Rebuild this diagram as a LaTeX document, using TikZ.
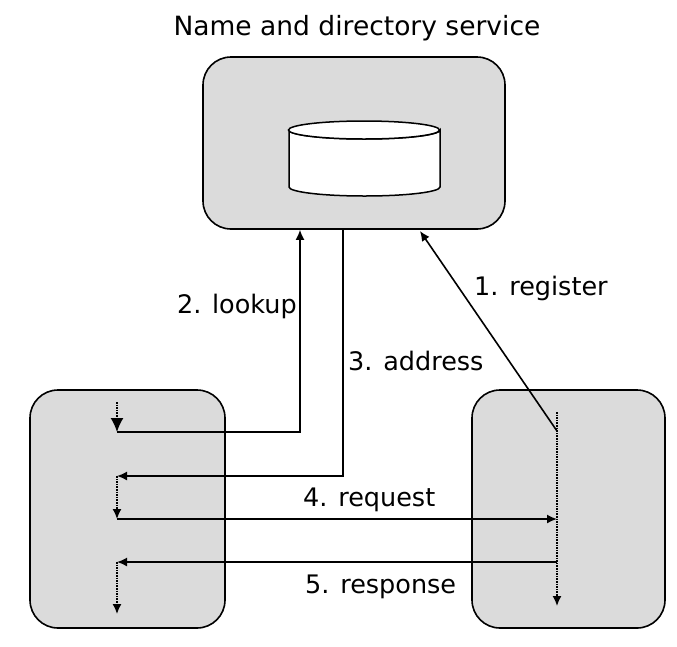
\documentclass[tikz,border=0pt]{standalone}
\usepackage{fontspec}
\setmainfont{DejaVu Sans}
\usetikzlibrary{arrows.meta}
\begin{document}
\begin{tikzpicture}[x=1pt,y=-1pt,
  box/.style={draw, line width=1.6pt, fill=black!14, rounded corners=28pt, inner sep=0pt},
  conn/.style={line width=1.6pt},
  thread/.style={line width=1.6pt, densely dotted},
  tip/.style={-{Latex[length=10pt,width=9pt]}},
  bigtip/.style={-{Latex[length=14pt,width=13pt]}},
  lbl/.style={font=\fontsize{25.5}{30}\selectfont, inner sep=0pt}]
\useasboundingbox (0,0) rectangle (677,646);
% boxes
\node[box, minimum width=302pt, minimum height=172pt] (nds) at (354,143) {};
\node[box, minimum width=195pt, minimum height=238pt] (client) at (127.5,509) {};
\node[box, minimum width=193pt, minimum height=238pt] (server) at (568.5,509) {};
\node[font=\fontsize{26.5}{31}\selectfont, inner sep=0pt] (title) at (357,28) {Name and directory service};
% cylinder
\coordinate (db) at (364,130);
\filldraw[fill=white, line width=1.5pt] (289,130) -- (289,187) arc[start angle=180,end angle=360,x radius=75.5pt,y radius=9pt] -- (440,130) arc[start angle=0,end angle=-180,x radius=75.5pt,y radius=9pt];
\draw[line width=1.5pt, fill=white] (db) ellipse[x radius=75.5pt,y radius=9pt];
% coordinates
\coordinate (c0) at (117,402);
\coordinate (c1) at (117,432);
\coordinate (c2) at (117,476);
\coordinate (c3) at (117,519);
\coordinate (c4) at (117,562);
\coordinate (c5) at (117,614);
\coordinate (s0) at (557,412);
\coordinate (s1) at (557,431);
\coordinate (s2) at (557,519);
\coordinate (s3) at (557,562);
\coordinate (s4) at (557,606);
\coordinate (look) at (300,432);
\coordinate (addr) at (343,476);
\coordinate (reg) at (420,231);
% threads
\draw[thread, bigtip] (c0) -- (c1);
\draw[thread, tip] (c2) -- (c3);
\draw[thread, tip] (c4) -- (c5);
\draw[thread, tip] (s0) -- (s4);
% messages
\draw[conn, tip] (c1) -- (look) -- (look |- nds.south);
\draw[conn, tip] (addr |- nds.south) -- (addr) -- (c2);
\draw[conn, tip] (c3) -- (s2);
\draw[conn, tip] (s3) -- (c4);
\draw[conn, tip] (s1) -- (reg);
% labels
\node[lbl, anchor=east] (l2) at (297,306) {2. lookup};
\node[lbl, anchor=west] (l3) at (348,361) {3. address};
\node[lbl, anchor=west] (l1) at (474,288) {1. register};
\node[lbl, anchor=west] (l4) at (303,500) {4. request};
\node[lbl, anchor=west] (l5) at (305,587) {5. response};
\end{tikzpicture}
\end{document}
